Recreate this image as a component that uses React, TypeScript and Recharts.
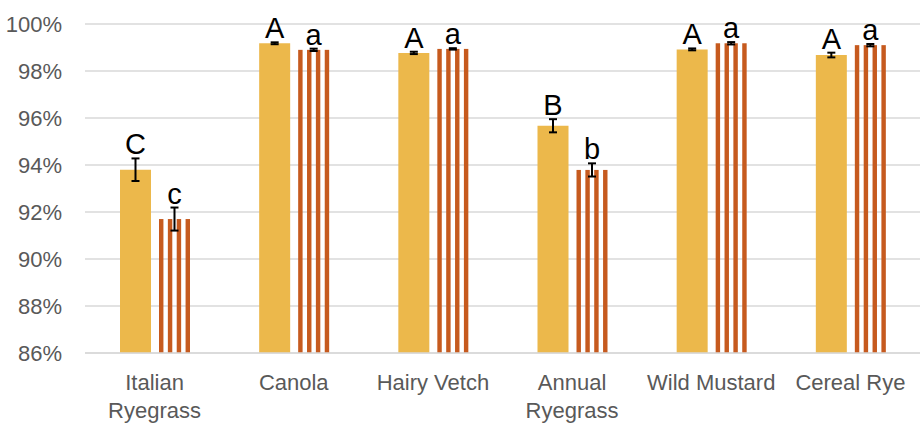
import React from "react";
import { BarChart, Bar, XAxis, YAxis, CartesianGrid, ErrorBar, LabelList } from "recharts";

const categories = ["Italian Ryegrass", "Canola", "Hairy Vetch", "Annual Ryegrass", "Wild Mustard", "Cereal Rye"];
const solidValues = [93.8, 99.18, 98.77, 95.67, 98.92, 98.68];
const solidErrors = [0.48, 0.04, 0.05, 0.28, 0.04, 0.1];
const stripedValues = [91.7, 98.9, 98.94, 93.79, 99.18, 99.1];
const stripedErrors = [0.49, 0.05, 0.03, 0.28, 0.05, 0.05];
const solidLetters = ["C", "A", "A", "B", "A", "A"];
const stripedLetters = ["c", "a", "a", "b", "a", "a"];
const yTicks = [86, 88, 90, 92, 94, 96, 98, 100];
const yMin = 86;
const yMax = 100;

const data = categories.map((c, i) => ({
  name: c,
  solid: solidValues[i],
  solidErr: solidErrors[i],
  striped: stripedValues[i],
  stripedErr: stripedErrors[i],
}));

const YELLOW = "#ECB84B";
const ORANGE = "#C65A1E";
const AXIS_FONT = "'Liberation Sans', Arial, sans-serif";

const StripedShape = (props: any) => {
  const { x, y, width, height } = props;
  if (!height || height <= 0) return null;
  const period = width / 3.5;
  const sw = period / 2;
  const rects = [];
  for (let k = 0; k < 4; k++) {
    rects.push(
      <rect key={k} x={x + k * period} y={y} width={sw} height={height} fill={ORANGE} />
    );
  }
  return <g>{rects}</g>;
};

const makeLetterLabel = (letters: string[], values: number[], errors: number[]) => (props: any) => {
  const { x, y, width, height, index } = props;
  const v = values[index];
  const pxPerUnit = height / (v - yMin);
  const errTop = y - errors[index] * pxPerUnit;
  return (
    <text
      x={x + width / 2}
      y={errTop - 4}
      textAnchor="middle"
      fontSize={29}
      fontFamily="'Liberation Sans', Arial, sans-serif"
      fill="#000"
    >
      {letters[index]}
    </text>
  );
};

const XTick = (props: any) => {
  const { x, y, payload } = props;
  const words: string[] = String(payload.value).split(" ");
  let lines: string[];
  if (payload.value === "Italian Ryegrass" || payload.value === "Annual Ryegrass") {
    lines = words;
  } else {
    lines = [payload.value];
  }
  return (
    <text x={x} y={y} textAnchor="middle" fill="#595959" fontSize={22} fontFamily={AXIS_FONT}>
      {lines.map((l, i) => (
        <tspan key={i} x={x} dy={i === 0 ? 37 : 28}>
          {l}
        </tspan>
      ))}
    </text>
  );
};

export default function App() {
  return (
    <div style={{ position: "absolute", left: 0, top: 0, background: "#fff" }}>
      <BarChart
        width={920}
        height={425}
        data={data}
        margin={{ top: 24, right: 0, bottom: 0, left: 0 }}
        barGap={8}
        barSize={31}
      >
        <CartesianGrid vertical={false} stroke="#D9D9D9" strokeWidth={1.5} />
        <XAxis
          dataKey="name"
          tickLine={false}
          tickSize={0}
          tickMargin={0}
          axisLine={{ stroke: "#D9D9D9", strokeWidth: 1.5 }}
          tick={<XTick />}
          interval={0}
          height={72}
        />
        <YAxis
          domain={[yMin, yMax]}
          ticks={yTicks}
          tickFormatter={(v: number) => `${v}%`}
          axisLine={false}
          tickLine={false}
          tickSize={0}
          tickMargin={23}
          width={85}
          allowDataOverflow
          tick={{ fill: "#595959", fontSize: 22, fontFamily: AXIS_FONT }}
        />
        <Bar dataKey="solid" fill={YELLOW} isAnimationActive={false}>
          <ErrorBar dataKey="solidErr" width={4} stroke="#000" strokeWidth={2} direction="y" />
          <LabelList dataKey="solid" content={makeLetterLabel(solidLetters, solidValues, solidErrors)} />
        </Bar>
        <Bar dataKey="striped" fill={ORANGE} shape={<StripedShape />} isAnimationActive={false}>
          <ErrorBar dataKey="stripedErr" width={4} stroke="#000" strokeWidth={2} direction="y" />
          <LabelList dataKey="striped" content={makeLetterLabel(stripedLetters, stripedValues, stripedErrors)} />
        </Bar>
      </BarChart>
    </div>
  );
}
